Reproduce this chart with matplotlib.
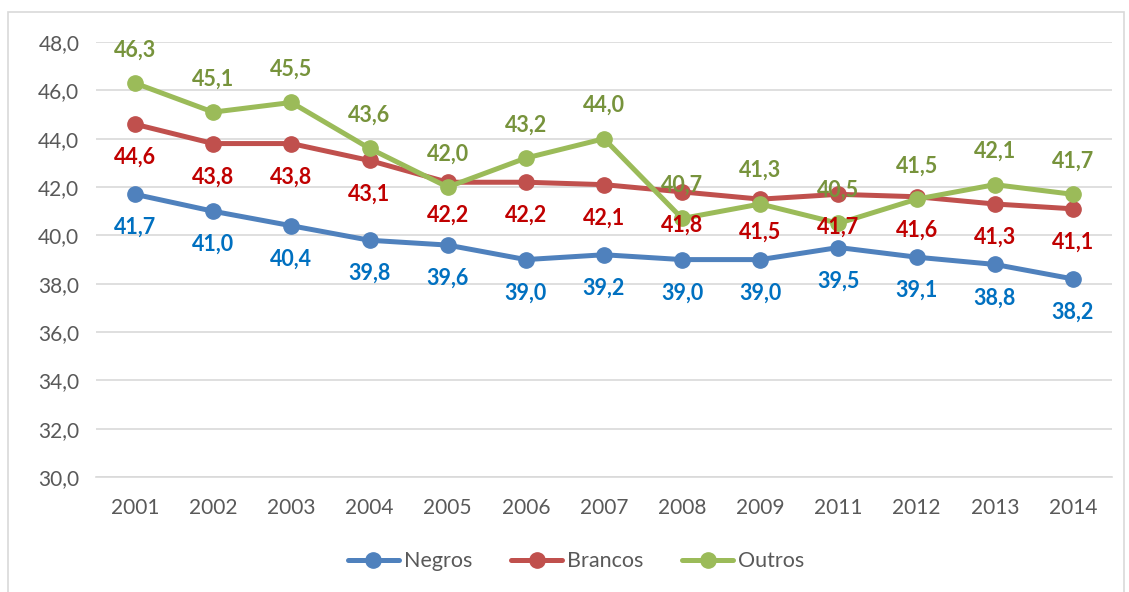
import matplotlib.pyplot as plt
from matplotlib.patches import Rectangle

years = ['2001', '2002', '2003', '2004', '2005', '2006', '2007',
         '2008', '2009', '2011', '2012', '2013', '2014']
negros = [41.7, 41.0, 40.4, 39.8, 39.6, 39.0, 39.2, 39.0, 39.0, 39.5, 39.1, 38.8, 38.2]
brancos = [44.6, 43.8, 43.8, 43.1, 42.2, 42.2, 42.1, 41.8, 41.5, 41.7, 41.6, 41.3, 41.1]
outros = [46.3, 45.1, 45.5, 43.6, 42.0, 43.2, 44.0, 40.7, 41.3, 40.5, 41.5, 42.1, 41.7]

plt.rcParams['font.family'] = ['Lato', 'DejaVu Sans']

fig = plt.figure(figsize=(11.29, 5.92), dpi=100)
ax = fig.add_axes([0.085, 0.194, 0.9, 0.735])

fig.patches.append(Rectangle((8 / 1129, -0.01), 1116 / 1129, 1 - 12 / 592 + 0.01,
                             transform=fig.transFigure, fill=False,
                             edgecolor='#D9D9D9', linewidth=1.2))

x = list(range(len(years)))
series = [
    ('Negros', negros, '#4F81BD', '#0070C0', -24),
    ('Brancos', brancos, '#C0504D', '#C00000', -24),
    ('Outros', outros, '#9BBB59', '#77933C', 24),
]

for name, vals, lc, tc, off in series:
    ax.plot(x, vals, color=lc, linewidth=3.6, marker='o', markersize=11,
            label=name, solid_capstyle='round', zorder=3)

for name, vals, lc, tc, off in series:
    for xi, v in zip(x, vals):
        ax.annotate(f'{v:.1f}'.replace('.', ','), (xi, v), xytext=(0, off),
                    textcoords='offset points', ha='center', va='center',
                    color=tc, fontsize=15.5, fontweight='bold', zorder=5)

ax.set_xlim(-0.5, len(years) - 0.5)
ax.set_ylim(30, 48)
ax.set_yticks(range(30, 49, 2))
ax.set_yticklabels([f'{t},0' for t in range(30, 49, 2)])
ax.set_xticks(x)
ax.set_xticklabels(years)
ax.grid(axis='y', color='#D9D9D9', linewidth=1.2)
ax.set_axisbelow(True)
for s in ax.spines.values():
    s.set_visible(False)
ax.spines['bottom'].set_visible(True)
ax.spines['bottom'].set_color('#D9D9D9')
ax.spines['bottom'].set_linewidth(1.2)
ax.tick_params(length=0, labelsize=15, labelcolor='#595959')
ax.tick_params(axis='x', pad=15)
ax.tick_params(axis='y', pad=12)

fig.legend(loc='center', bbox_to_anchor=(0.51, 0.052), ncol=3, frameon=False,
           fontsize=15.5, labelcolor='#595959', handlelength=2.4,
           handletextpad=0.2, columnspacing=1.8)

fig.savefig('out.png', dpi=100)
